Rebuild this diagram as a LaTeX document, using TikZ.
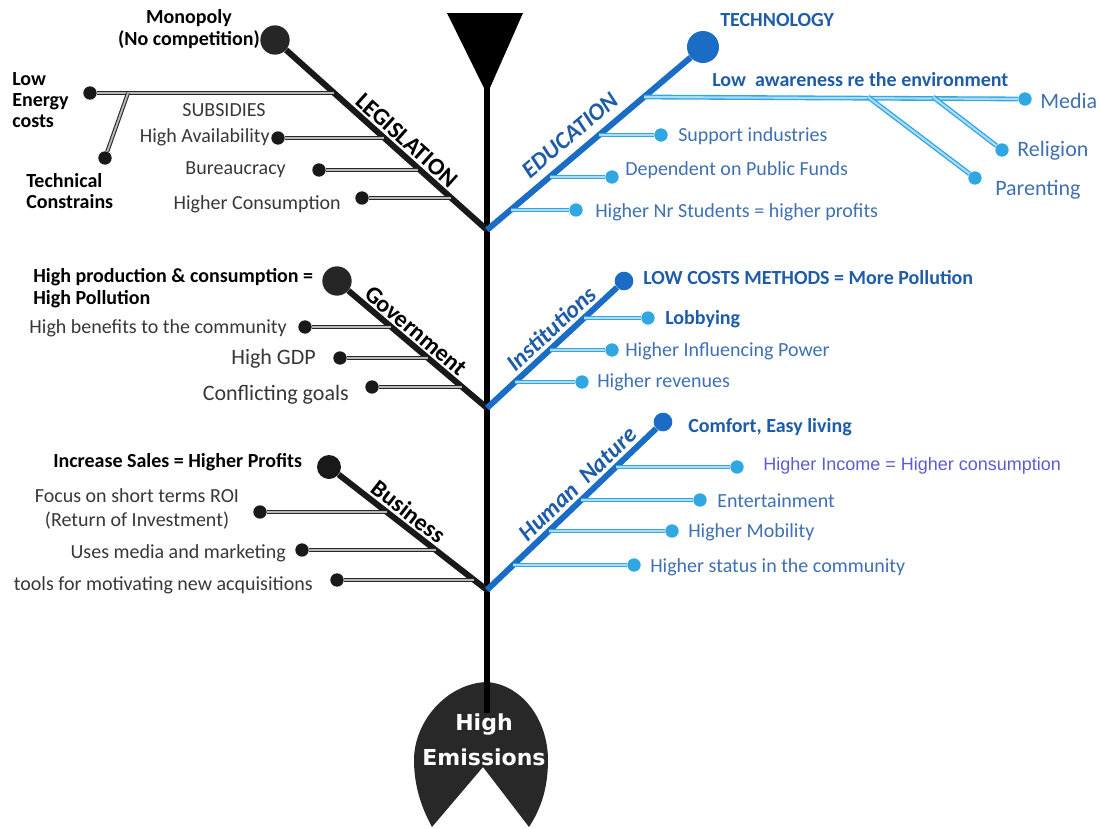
\documentclass[tikz,border=0pt]{standalone}
\usepackage{fontspec}
\setmainfont{Carlito}
\newfontfamily\arialf{Liberation Sans}
\newfontfamily\heavyf{DejaVu Sans}
\usetikzlibrary{calc}
\definecolor{bone}{RGB}{26,108,196}
\definecolor{lblue}{RGB}{48,166,226}
\definecolor{hblue}{RGB}{30,92,168}
\definecolor{sblue}{RGB}{62,112,178}
\definecolor{pblue}{RGB}{92,92,212}
\definecolor{dgray}{RGB}{55,55,55}
\definecolor{tail}{RGB}{40,40,40}
\begin{document}
\begin{tikzpicture}[x=0.75pt,y=-0.75pt,
  dot/.style={circle,fill=black!90,inner sep=0pt,minimum size=10pt},
  bigdot/.style={circle,fill=black!85,inner sep=0pt,minimum size=22pt},
  bdot/.style={circle,fill=lblue,inner sep=0pt,minimum size=10pt},
  bbig/.style={circle,fill=bone,inner sep=0pt,minimum size=#1},
  kbone/.style={line width=4.5pt,black!90},
  bbone/.style={line width=4.5pt,bone},
  dbl/.style={draw=black!85,double=black!28,line width=0.8pt,double distance=1.4pt},
  bdbl/.style={draw=lblue,double=lblue!40,line width=1pt,double distance=1.6pt},
  txt/.style={inner sep=0pt,text=dgray,font=\fontsize{15}{18}\selectfont},
  btxt/.style={inner sep=0pt,text=black,font=\bfseries\fontsize{15}{16}\selectfont},
  bigtxt/.style={inner sep=0pt,text=dgray,font=\fontsize{16.5}{18}\selectfont},
  klbl/.style={anchor=south,inner sep=#1,text=black,font=\bfseries\fontsize{18}{18}\selectfont},
  blbl/.style={anchor=south,inner sep=#1,text=hblue,font=\bfseries\itshape\fontsize{18}{18}\selectfont},
  hb/.style={inner sep=0pt,text=hblue,font=\bfseries\fontsize{15}{16}\selectfont},
  sb/.style={inner sep=0pt,text=sblue,font=\fontsize{15}{18}\selectfont},
  sbl/.style={inner sep=0pt,text=sblue,font=\fontsize{16.5}{18}\selectfont}
]
\useasboundingbox (0,0) rectangle (1101,829);

% ---------- spine, head and tail ----------
\coordinate (spTop) at (487,86);
\coordinate (spEnd) at (487,713);
\fill[tail] (486,682) .. controls (446,684) and (414,722) .. (414,760)
  .. controls (414,790) and (424,812) .. (432,827) -- (483,767) -- (529,827)
  .. controls (540,810) and (548,790) .. (548,760)
  .. controls (548,720) and (522,684) .. (486,682) -- cycle;
\draw[line width=5pt,black] (spTop) -- (spEnd);
\fill[black] (447,13) -- (523,13) -- (489,90) -- (485,90) -- cycle;
\node[inner sep=0pt,text=white,font=\heavyf\bfseries\fontsize{16.5}{26}\selectfont,align=center]
  (emis) at (484,740) {High\\Emissions};

% ---------- joints on the spine ----------
\coordinate (jA) at (487,230);
\coordinate (jB) at (487,408);
\coordinate (jC) at (487,590);

% ---------- LEGISLATION ----------
\node[bigdot] (mono) at (275,40) {};
\draw[kbone] (jA) -- (mono);
\node[klbl=4pt,rotate=-41.9] (legis) at ($(mono)!0.58!(jA)$) {LEGISLATION};
\node[btxt,align=center] (monoT) at (189,29) {Monopoly\\(No competition)};
\coordinate (eL1) at (334,93);
\coordinate (eL2) at (384,138);
\coordinate (eL3) at (418,170);
\coordinate (eL4) at (451,198);
\coordinate (fork) at (128,93);
\node[dot] (lowE) at (90,93) {};
\node[dot] (tech) at (105,158) {};
\node[dot] (avail) at (278,138) {};
\node[dot] (bur) at (319,170) {};
\node[dot] (cons) at (362,198) {};
\draw[dbl] (lowE) -- (eL1);
\draw[dbl] (tech) -- (fork);
\draw[dbl] (avail) -- (eL2);
\draw[dbl] (bur) -- (eL3);
\draw[dbl] (cons) -- (eL4);
\node[btxt,align=left,anchor=west] (lowT) at (12,100) {Low\\Energy\\costs};
\node[btxt,align=left,anchor=west] (techT) at (26,191) {Technical\\Constrains};
\node[txt,anchor=mid] (subs) at (224,113) {SUBSIDIES};
\node[txt,anchor=mid east] (availT) at (270,139) {High Availability};
\node[txt,anchor=mid east] (burT) at (286,171) {Bureaucracy};
\node[txt,anchor=mid east] (consT) at (341,206) {Higher Consumption};

% ---------- Government ----------
\node[bigdot] (gov) at (337,281) {};
\draw[kbone] (jB) -- (gov);
\node[klbl=3.5pt,rotate=-40.3] (govL) at ($(gov)!0.47!(jB)$) {Government};
\node[btxt,align=left,anchor=west] (govT) at (33,288) {High production \& consumption =\\High Pollution};
\coordinate (eG1) at (391,327);
\coordinate (eG2) at (428,358);
\coordinate (eG3) at (462,387);
\node[dot] (ben) at (305,327) {};
\node[dot] (gdp) at (340,358) {};
\node[dot] (conf) at (372,387) {};
\draw[dbl] (ben) -- (eG1);
\draw[dbl] (gdp) -- (eG2);
\draw[dbl] (conf) -- (eG3);
\node[txt,anchor=mid east] (benT) at (287,330) {High benefits to the community};
\node[bigtxt,anchor=mid east] (gdpT) at (316,361) {High GDP};
\node[bigtxt,anchor=mid east] (confT) at (349,397) {Conflicting goals};

% ---------- Business ----------
\node[dot,minimum size=18pt] (bus) at (329,467) {};
\draw[kbone] (jC) -- (bus);
\node[klbl=4pt,rotate=-37.9] (busL) at ($(bus)!0.45!(jC)$) {Business};
\node[btxt,anchor=mid west] (busT) at (53,464) {Increase Sales = Higher Profits};
\coordinate (eB1) at (387,512);
\coordinate (eB2) at (436,550);
\coordinate (eB3) at (474,580);
\node[dot] (roi) at (260,512) {};
\node[dot] (med) at (302,550) {};
\node[dot] (tool) at (337,580) {};
\draw[dbl] (roi) -- (eB1);
\draw[dbl] (med) -- (eB2);
\draw[dbl] (tool) -- (eB3);
\node[txt,align=center] (roiT) at (137,509) {Focus on short terms ROI\\(Return of Investment)};
\node[txt,anchor=mid east] (medT) at (286,555) {Uses media and marketing};
\node[txt,anchor=mid east] (toolT) at (313,587) {tools for motivating new acquisitions};

% ---------- EDUCATION ----------
\node[bbig=24pt] (techn) at (703,47) {};
\draw[bbone] (jA) -- (techn);
\node[blbl=8pt,rotate=40.3] (eduL) at ($(jA)!0.44!(techn)$) {EDUCATION};
\node[hb,anchor=mid west] (technT) at (720,23) {TECHNOLOGY};
\coordinate (eE0) at (644,97);
\coordinate (eE1) at (599,135);
\coordinate (eE2) at (550,177);
\coordinate (eE3) at (511,210);
\coordinate (forkP) at (868,97);
\coordinate (forkR) at (933,97);
\node[bdot] (media) at (1025,99) {};
\node[bdot] (relig) at (1002,150) {};
\node[bdot] (paren) at (975,178) {};
\node[bdot] (supp) at (661,135) {};
\node[bdot] (dep) at (612,177) {};
\node[bdot] (stud) at (576,210) {};
\draw[bdbl] (eE0) -- (media);
\draw[bdbl] (forkR) -- (relig);
\draw[bdbl] (forkP) -- (paren);
\draw[bdbl] (eE1) -- (supp);
\draw[bdbl] (eE2) -- (dep);
\draw[bdbl] (eE3) -- (stud);
\node[hb,anchor=mid west] (awT) at (712,83) {Low\ \ awareness re the environment};
\node[sbl,anchor=mid west] (mediaT) at (1040,105) {Media};
\node[sbl,anchor=mid west] (religT) at (1017,153) {Religion};
\node[sbl,anchor=mid west] (parenT) at (995,192) {Parenting};
\node[sb,anchor=mid west] (suppT) at (678,138) {Support industries};
\node[sb,anchor=mid west] (depT) at (625,172) {Dependent on Public Funds};
\node[sb,anchor=mid west] (studT) at (595,214) {Higher Nr Students = higher profits};

% ---------- Institutions ----------
\node[bbig=14pt] (inst) at (624,281) {};
\draw[bbone] (jB) -- (inst);
\node[blbl=4.5pt,rotate=42.8] (instL) at ($(jB)!0.54!(inst)$) {Institutions};
\node[hb,anchor=mid west] (instT) at (643,281) {LOW COSTS METHODS = More Pollution};
\coordinate (eI1) at (584,318);
\coordinate (eI2) at (550,350);
\coordinate (eI3) at (515,382);
\node[bdot] (lob) at (648,318) {};
\node[bdot] (infl) at (612,350) {};
\node[bdot] (rev) at (582,382) {};
\draw[bdbl] (eI1) -- (lob);
\draw[bdbl] (eI2) -- (infl);
\draw[bdbl] (eI3) -- (rev);
\node[hb,anchor=mid west] (lobT) at (665,321) {Lobbying};
\node[sb,anchor=mid west] (inflT) at (625,353) {Higher Influencing Power};
\node[sb,anchor=mid west] (revT) at (597,384) {Higher revenues};

% ---------- Human Nature ----------
\node[bbig=14pt] (hum) at (663,422) {};
\draw[bbone] (jC) -- (hum);
\node[blbl=4.5pt,rotate=43.7] (humL) at ($(jC)!0.57!(hum)$) {Human\ \ Nature};
\node[hb,anchor=mid west] (humT) at (688,429) {Comfort, Easy living};
\coordinate (eH1) at (616,467);
\coordinate (eH2) at (581,500);
\coordinate (eH3) at (549,531);
\coordinate (eH4) at (513,565);
\node[bdot] (inc) at (737,467) {};
\node[bdot] (ent) at (700,500) {};
\node[bdot] (mob) at (672,531) {};
\node[bdot] (stat) at (634,565) {};
\draw[bdbl] (eH1) -- (inc);
\draw[bdbl] (eH2) -- (ent);
\draw[bdbl] (eH3) -- (mob);
\draw[bdbl] (eH4) -- (stat);
\node[inner sep=0pt,text=pblue,font=\arialf\fontsize{13.5}{16}\selectfont,anchor=mid west]
  (incT) at (763,467) {Higher Income = Higher consumption};
\node[sb,anchor=mid west] (entT) at (717,504) {Entertainment};
\node[sb,anchor=mid west] (mobT) at (688,534) {Higher Mobility};
\node[sb,anchor=mid west] (statT) at (650,569) {Higher status in the community};
\end{tikzpicture}
\end{document}
